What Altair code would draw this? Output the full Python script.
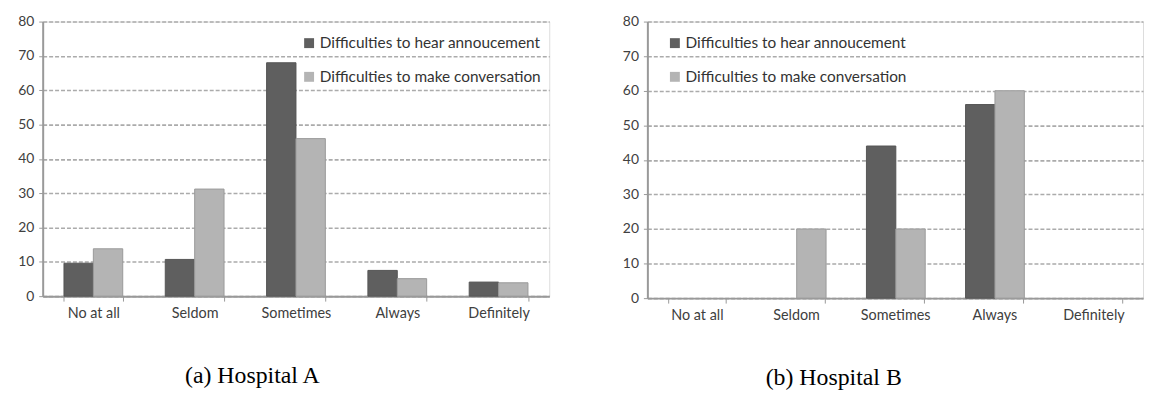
import altair as alt
import pandas as pd

categories = ["No at all", "Seldom", "Sometimes", "Always", "Definitely"]
series = ["Difficulties to hear annoucement", "Difficulties to make conversation"]
a_hear = [9.6, 10.7, 68.0, 7.5, 4.1]
a_conv = [13.8, 31.2, 45.9, 5.1, 3.9]
b_hear = [0, 0, 44, 56, 0]
b_conv = [0, 20, 20, 60, 0]
y_ticks = [0, 10, 20, 30, 40, 50, 60, 70, 80]
captions = ["(a) Hospital A", "(b) Hospital B"]

FONT = "Lato"


def make_df(hear, conv):
    rows = []
    for c, h, v in zip(categories, hear, conv):
        rows.append({"category": c, "series": series[0], "value": h})
        rows.append({"category": c, "series": series[1], "value": v})
    return pd.DataFrame(rows)


def panel(df, width, height, legend_x, legend_y, caption, cap_dx):
    return (
        alt.Chart(df)
        .transform_filter("datum.value > 0")
        .mark_bar(strokeWidth=1)
        .encode(
            x=alt.X(
                "category:N",
                sort=categories,
                scale=alt.Scale(domain=categories, paddingInner=0.42, paddingOuter=0.21),
                axis=alt.Axis(
                    title=None,
                    labelAngle=0,
                    labelFont=FONT,
                    labelFontSize=14.5,
                    labelColor="#404040",
                    labelPadding=6,
                    tickBand="extent",
                    tickSize=5,
                    tickColor="#999999",
                    domainColor="#999999",
                    domainWidth=2,
                    grid=False,
                ),
            ),
            xOffset=alt.XOffset("series:N", sort=series, scale=alt.Scale(domain=series)),
            y=alt.Y(
                "value:Q",
                scale=alt.Scale(domain=[0, 80], nice=False),
                axis=alt.Axis(
                    title=None,
                    values=y_ticks,
                    grid=True,
                    gridDash=[4, 2],
                    gridColor="#ababab",
                    gridWidth=1.6,
                    tickSize=4,
                    tickColor="#999999",
                    domainColor="#999999",
                    domainWidth=2,
                    labelFont=FONT,
                    labelFontSize=14,
                    labelColor="#404040",
                    labelPadding=5,
                    minExtent=34,
                    maxExtent=34,
                ),
            ),
            color=alt.Color(
                "series:N",
                sort=series,
                scale=alt.Scale(domain=series, range=["#5f5f5f", "#b4b4b4"]),
                legend=alt.Legend(
                    title=None,
                    orient="none",
                    legendX=legend_x,
                    legendY=legend_y,
                    symbolType="square",
                    symbolSize=100,
                    symbolStrokeWidth=0,
                    labelFont=FONT,
                    labelFontSize=15.5,
                    labelColor="#333333",
                    labelOffset=3,
                    labelLimit=400,
                    rowPadding=17,
                ),
            ),
            stroke=alt.Stroke(
                "series:N",
                sort=series,
                scale=alt.Scale(domain=series, range=["#555555", "#9a9a9a"]),
                legend=None,
            ),
        )
        .properties(
            width=width,
            height=height,
            title=alt.TitleParams(
                caption,
                orient="bottom",
                font="Liberation Serif",
                fontSize=24,
                fontWeight="normal",
                color="#000000",
                offset=44,
                dx=cap_dx,
            ),
        )
    )


left = panel(make_df(a_hear, a_conv), 511, 277, 261, 14, captions[0], -44)
right = panel(make_df(b_hear, b_conv), 500, 279, 20, 14, captions[1], -62)

chart = (
    alt.hconcat(left, right, spacing=63)
    .resolve_legend(color="independent", stroke="independent")
    .resolve_scale(color="independent", stroke="independent")
    .properties(padding={"left": 0, "top": 4, "right": 0, "bottom": 0})
    .configure_view(stroke="#999999", strokeWidth=1.5)
    .configure(background="white")
)

chart.save("out.html", embed_options={"renderer": "svg", "actions": False})
